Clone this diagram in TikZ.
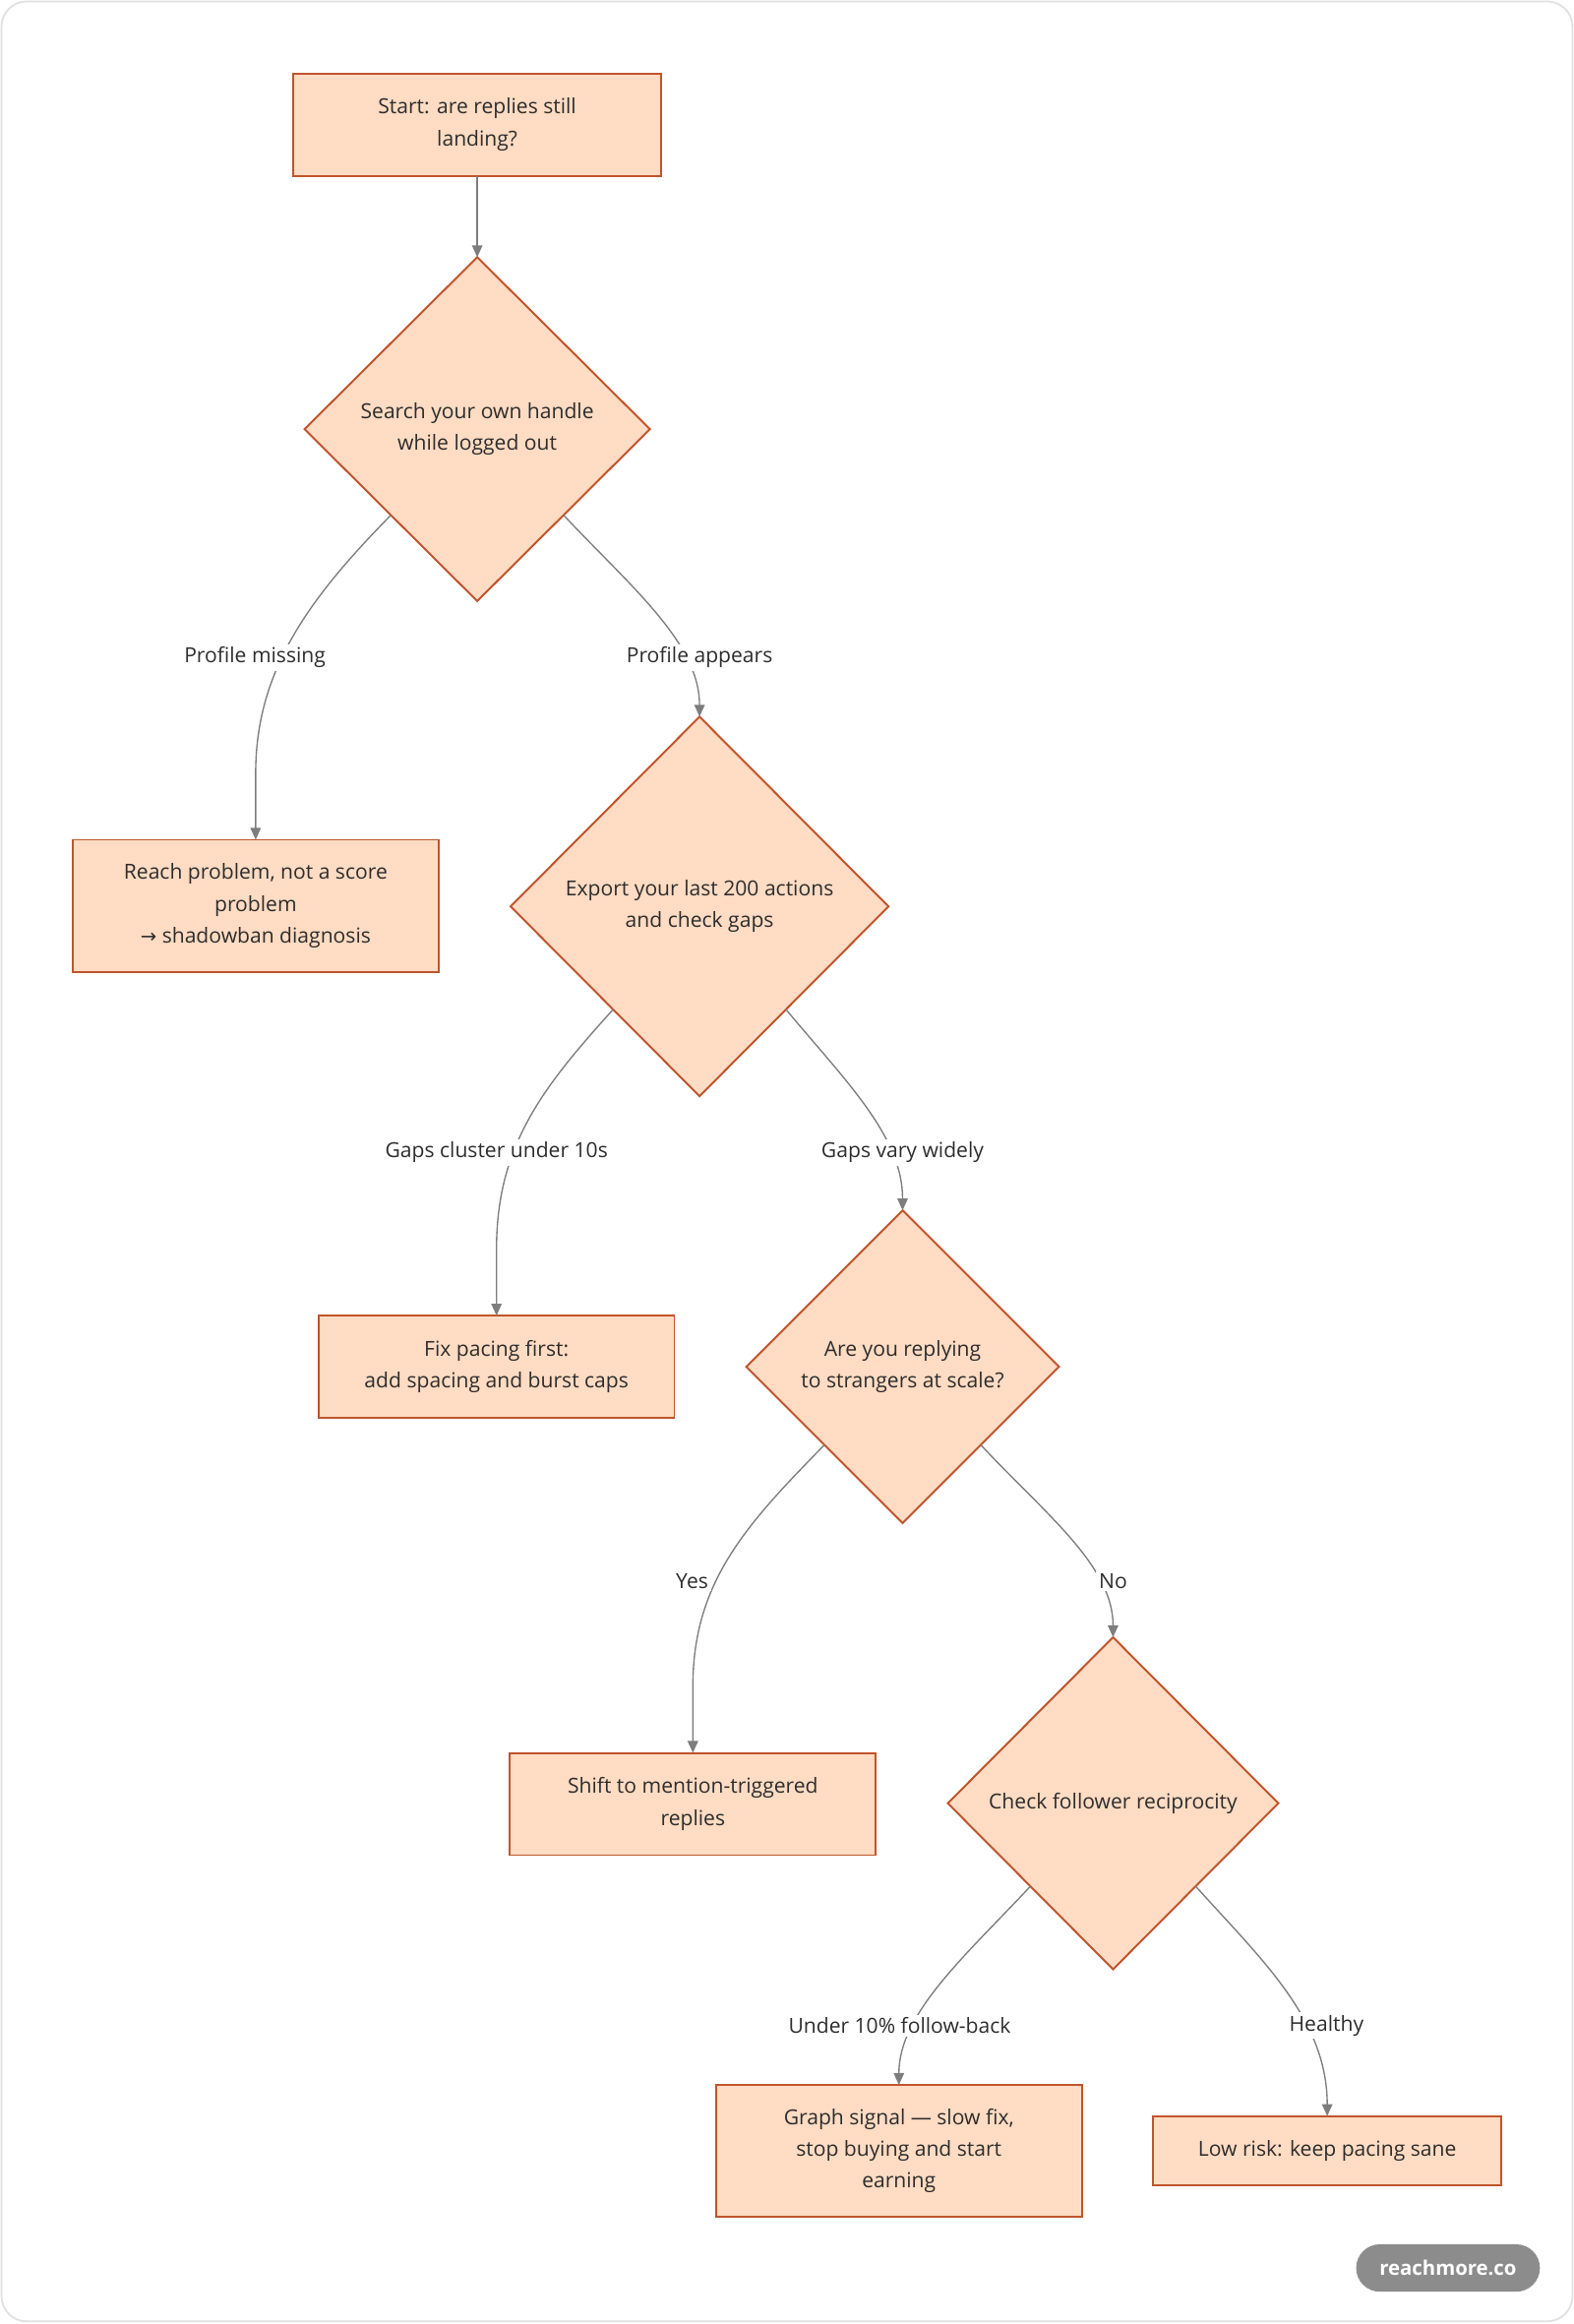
\documentclass[tikz,border=0pt]{standalone}
\usepackage{fontspec}
\setmainfont{Open Sans}
\newfontfamily\symfont{DejaVu Sans}
\usetikzlibrary{shapes.geometric,arrows.meta}
\definecolor{boxfill}{RGB}{255,220,195}
\definecolor{boxline}{RGB}{192,84,44}
\definecolor{edgecol}{RGB}{125,125,125}
\definecolor{txtcol}{RGB}{45,45,45}
\definecolor{framecol}{RGB}{225,225,225}
\definecolor{badgecol}{RGB}{140,140,140}
\begin{document}
\begin{tikzpicture}[x=1pt,y=-1pt,
  basefont/.style={font=\fontsize{14}{21.5}\selectfont, text=txtcol},
  procbox/.style={basefont, draw=boxline, fill=boxfill, line width=1.3pt, align=center, inner sep=0pt, outer sep=0pt},
  decide/.style={basefont, shape=diamond, draw=boxline, fill=boxfill, line width=1.3pt, align=center, inner sep=0pt, outer sep=0pt},
  edge/.style={draw=edgecol, line width=0.9pt, -{Triangle[length=8pt,width=7pt]}},
  elabel/.style={basefont, fill=white, inner sep=2pt}
]
\useasboundingbox (0,0) rectangle (1062,1567.8);
\draw[framecol, line width=1.2pt, rounded corners=17pt] (1,1) rectangle (1061,1566);

% nodes
\node[procbox, minimum width=248pt, minimum height=69pt] (start) at (322,84) {Start: are replies still\\landing?};
\path (start.north west) ++(0,-1.5) coordinate (sn);
\node[decide, minimum width=233pt, minimum height=232pt] (d1) at (322,289.5) {Search your own handle\\while logged out};
\node[procbox, minimum width=247pt, minimum height=89pt] (b2) at (172.5,611) {Reach problem, not a score\\problem\\{\symfont\fontsize{13}{21.5}\selectfont →} shadowban diagnosis};
\node[decide, minimum width=255pt, minimum height=256pt] (d2) at (472,611.5) {Export your last 200 actions\\and check gaps};
\node[procbox, minimum width=240pt, minimum height=69pt] (b3) at (335,922) {Fix pacing first:\\add spacing and burst caps};
\node[decide, minimum width=211pt, minimum height=211pt] (d3) at (609,922) {Are you replying\\to strangers at scale?};
\node[procbox, minimum width=247pt, minimum height=69pt] (b4) at (467.5,1217) {Shift to mention-triggered\\replies};
\node[decide, minimum width=223pt, minimum height=224pt] (d4) at (751,1216.5) {Check follower reciprocity};
\node[procbox, minimum width=247pt, minimum height=89pt] (b5) at (606.5,1451) {Graph signal — slow fix,\\stop buying and start\\earning};
\node[procbox, minimum width=235pt, minimum height=47pt] (b6) at (895.5,1451) {Low risk: keep pacing sane};

% edges
\draw[edge] (start.south) -- (d1.north);
\draw[edge] (d1.south west) .. controls +(-54,55) and +(0,-70) .. ([yshift=45pt]b2.north) -- (b2.north);
\draw[edge] (d1.south east) .. controls +(45,48) and +(0,-50) .. (d2.north);
\draw[edge] (d2.230) .. controls +(-47,52) and +(0,-70) .. ([yshift=45pt]b3.north) -- (b3.north);
\draw[edge] (d2.310) .. controls +(40,48) and +(0,-50) .. (d3.north);
\draw[edge] (d3.south west) .. controls +(-53,54) and +(0,-70) .. ([yshift=45pt]b4.north) -- (b4.north);
\draw[edge] (d3.south east) .. controls +(45,48) and +(0,-48) .. (d4.north);
\draw[edge] (d4.south west) .. controls +(-45,48) and +(0,-48) .. (b5.north);
\draw[edge] (d4.south east) .. controls +(45,50) and +(0,-65) .. (b6.north);

% edge labels
\node[elabel] (l1) at (172,443.5) {Profile missing};
\node[elabel] (l2) at (472,443.5) {Profile appears};
\node[elabel] (l3) at (335,777.5) {Gaps cluster under 10s};
\node[elabel] (l4) at (609,777.5) {Gaps vary widely};
\node[elabel] (l5) at (467,1066.5) {Yes};
\node[elabel] (l6) at (751,1066.5) {No};
\node[elabel] (l7) at (607,1366.5) {Under 10\% follow-back};
\node[elabel] (l8) at (895,1366.5) {Healthy};

% badge
\node[fill=badgecol, rounded corners=16pt, minimum width=124pt, minimum height=32pt, inner sep=0pt, text=white, font=\fontsize{13.5}{16}\selectfont\bfseries] (badge) at (977,1530) {reachmore.co};
\end{tikzpicture}
\end{document}
